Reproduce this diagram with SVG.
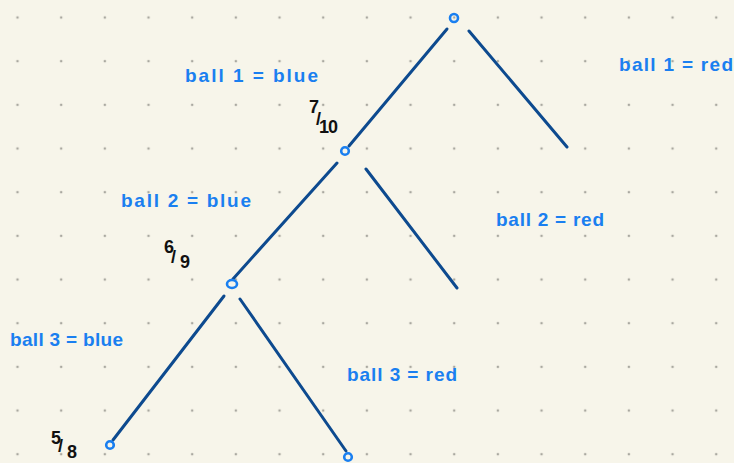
<svg xmlns="http://www.w3.org/2000/svg" width="734" height="463" viewBox="0 0 734 463">
<defs>
<style>
.lbl{font-family:"Liberation Sans",Arial,sans-serif;font-size:19px;font-weight:bold;fill:#1a7ff0}
.frac{font-family:"Liberation Sans",Arial,sans-serif;font-size:18px;font-weight:bold;fill:#111}
.edge{stroke:#0d4a8f;stroke-width:3;stroke-linecap:round;fill:none}
.node{stroke:#1a7ff0;stroke-width:2.6;fill:none}
.dot{fill:#a9a8a0}
</style>
<pattern id="grid" x="17.5" y="17.5" width="43.67" height="43.67" patternUnits="userSpaceOnUse">
<circle cx="0" cy="0" r="1.3" class="dot"/>
<circle cx="43.67" cy="0" r="1.3" class="dot"/>
<circle cx="0" cy="43.67" r="1.3" class="dot"/>
<circle cx="43.67" cy="43.67" r="1.3" class="dot"/>
</pattern>
</defs>
<rect width="734" height="463" fill="#f7f5ea"/>
<rect width="734" height="463" fill="url(#grid)"/>

<g id="connectors">
<line class="edge" x1="447" y1="29" x2="349" y2="146"/>
<line class="edge" x1="469" y1="31" x2="567" y2="147"/>
<line class="edge" x1="337" y1="163" x2="233" y2="279"/>
<line class="edge" x1="366" y1="169" x2="457" y2="288"/>
<line class="edge" x1="224" y1="296" x2="113" y2="440"/>
<line class="edge" x1="240" y1="299" x2="346" y2="451"/>
</g>

<g id="root"><circle class="node" cx="454" cy="18" r="4"/></g>
<g id="n-blue1"><circle class="node" cx="345" cy="151" r="3.8"/></g>
<g id="n-blue2"><ellipse class="node" cx="232" cy="284" rx="5" ry="4"/></g>
<g id="n-blue3"><circle class="node" cx="110" cy="445" r="3.8"/></g>
<g id="n-red3"><circle class="node" cx="348" cy="457" r="3.8"/></g>

<g id="labels">
<text class="lbl" x="185" y="82" textLength="133" lengthAdjust="spacing">ball 1 = blue</text>
<text class="lbl" x="619" y="71" textLength="114" lengthAdjust="spacing">ball 1 = red</text>
<text class="lbl" x="121" y="207" textLength="130" lengthAdjust="spacing">ball 2 = blue</text>
<text class="lbl" x="496" y="226" textLength="108" lengthAdjust="spacing">ball 2 = red</text>
<text class="lbl" x="10" y="346" textLength="113" lengthAdjust="spacing">ball 3 = blue</text>
<text class="lbl" x="347" y="381" textLength="110" lengthAdjust="spacing">ball 3 = red</text>
</g>

<g id="fractions">
<text class="frac" x="309 316 319 328" y="113 125 133 133">7/10</text>
<text class="frac" x="164 171 180" y="253 263 268">6/9</text>
<text class="frac" x="51 58 67" y="444 452 458">5/8</text>
</g>
</svg>
